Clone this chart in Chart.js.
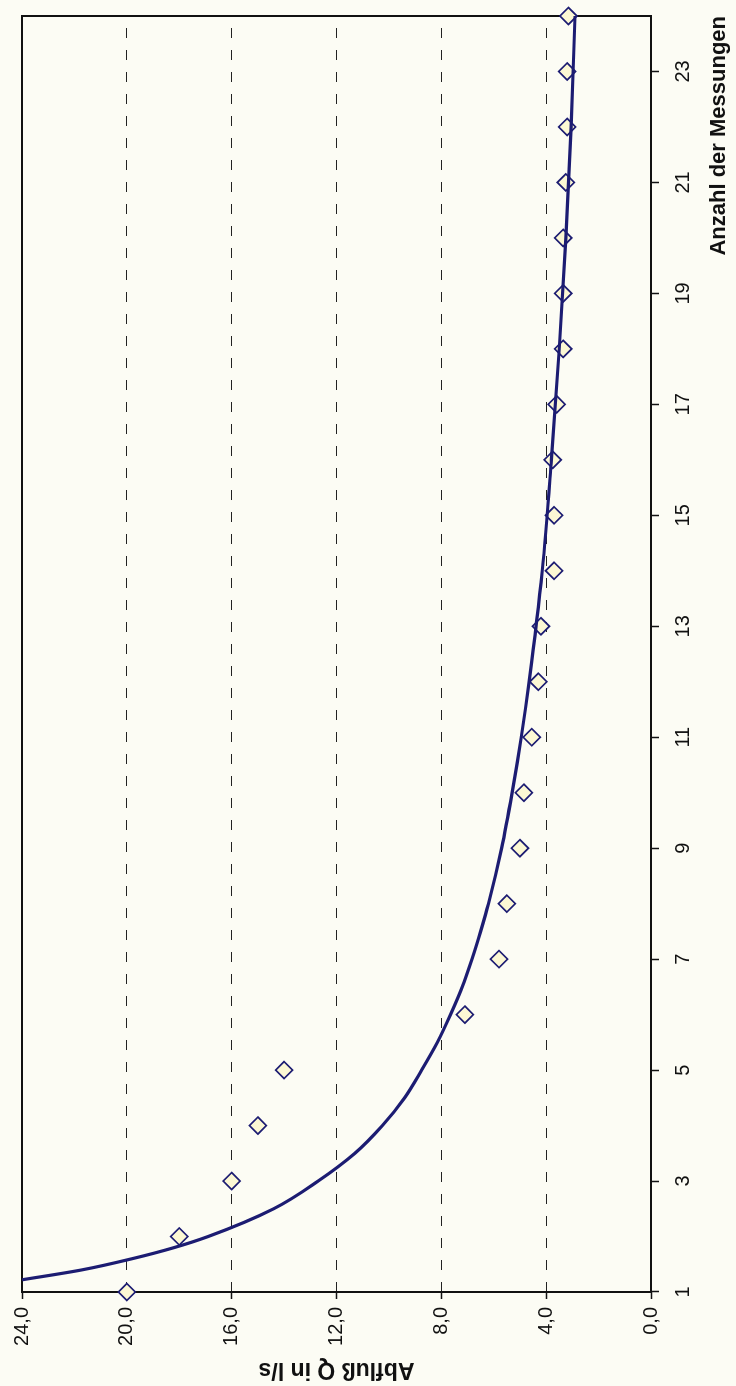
<!DOCTYPE html>
<html lang="de">
<head>
<meta charset="UTF-8" />
<title>Abfluß Q in l/s</title>
<script src="https://cdn.jsdelivr.net/npm/chart.js"></script>
<style>
  html, body {
    margin: 0;
    padding: 0;
    background: #fcfcf4;
    overflow: hidden;
  }
  body {
    width: 736px;
    height: 1386px;
    position: relative;
  }
  /* chart is laid out landscape and turned a quarter to the left */
  #wrap {
    position: absolute;
    left: 0;
    top: 0;
    width: 1386px;
    height: 736px;
    transform-origin: 0 0;
    transform: translateY(1386px) rotate(-90deg);
  }
</style>
</head>
<body>

<div id="wrap"><canvas id="abfluss" width="1386" height="736"></canvas></div>

<script>
  // Messungen und gemessener Abfluss Q in l/s
  const messung = [1, 2, 3, 4, 5, 6, 7, 8, 9, 10, 11, 12, 13, 14, 15, 16, 17, 18, 19, 20, 21, 22, 23, 24];
  const abfluss = [20.0, 18.0, 16.0, 15.0, 14.0, 7.1, 5.8, 5.5, 5.0, 4.85, 4.55, 4.3, 4.2, 3.7, 3.7, 3.75,
                   3.6, 3.35, 3.35, 3.35, 3.25, 3.2, 3.2, 3.15];

  // Trendlinie (Potenz), Stützstellen
  const trendX = [1.22, 1.4, 1.6, 1.8, 2, 2.5, 3, 3.5, 4, 4.5, 5, 5.5, 6, 6.5, 7, 7.5, 8, 9, 10, 11, 12, 14, 16,
                  18, 20, 22, 24];
  const trendY = [24.0, 21.7, 19.8, 18.2, 16.9, 14.4, 12.7, 11.3, 10.25, 9.4, 8.75, 8.15, 7.65, 7.2, 6.83, 6.5,
                  6.2, 5.7, 5.3, 4.95, 4.65, 4.15, 3.8, 3.5, 3.25, 3.05, 2.9];

  const xTicks = [1, 3, 5, 7, 9, 11, 13, 15, 17, 19, 21, 23];
  const yTicks = [0, 4, 8, 12, 16, 20, 24];

  const FONT = 'Arial, "Liberation Sans", sans-serif';
  const NAVY = '#1c1c72';

  // black frame around the plot area
  const rahmen = {
    id: 'rahmen',
    beforeDatasetsDraw(chart) {
      const { ctx, chartArea: a } = chart;
      ctx.save();
      ctx.strokeStyle = '#111';
      ctx.lineWidth = 2;
      ctx.strokeRect(a.left, a.top, a.right - a.left, a.bottom - a.top);
      ctx.restore();
    }
  };

  const ctx = document.getElementById('abfluss').getContext('2d');

  new Chart(ctx, {
    type: 'scatter',
    data: {
      datasets: [
        {
          label: 'Trend',
          data: trendX.map((x, i) => ({ x: x, y: trendY[i] })),
          showLine: true,
          borderColor: NAVY,
          borderWidth: 3.2,
          pointRadius: 0,
          cubicInterpolationMode: 'monotone',
          clip: 0
        },
        {
          label: 'Abfluß Q',
          data: messung.map((m, i) => ({ x: m, y: abfluss[i] })),
          pointStyle: 'rectRot',
          pointRadius: 8.5,
          pointBackgroundColor: '#fcf8d4',
          pointBorderColor: NAVY,
          pointBorderWidth: 1.7,
          clip: false
        }
      ]
    },
    options: {
      responsive: false,
      animation: false,
      layout: { padding: { left: 0, right: 16, top: 22, bottom: 0 } },
      plugins: {
        legend: { display: false },
        tooltip: { enabled: false }
      },
      scales: {
        x: {
          type: 'linear',
          position: 'bottom',
          min: 1,
          max: 24,
          afterBuildTicks: s => { s.ticks = xTicks.map(v => ({ value: v })); },
          afterFit: s => { s.height = 85; },
          border: { display: false },
          grid: {
            drawOnChartArea: false,
            drawTicks: true,
            tickLength: 8,
            tickColor: '#111',
            tickWidth: 1.5
          },
          ticks: {
            color: '#111',
            padding: 12,
            maxRotation: 0,
            font: { family: FONT, size: 20 }
          },
          title: {
            display: true,
            text: 'Anzahl der Messungen',
            align: 'end',
            color: '#111',
            padding: { top: 4, bottom: 4 },
            font: { family: FONT, size: 22, weight: 'bold' }
          }
        },
        y: {
          min: 0,
          max: 24,
          afterBuildTicks: s => { s.ticks = yTicks.map(v => ({ value: v })); },
          afterFit: s => { s.width = 94; },
          border: { display: false, dash: [10, 12] },
          grid: {
            color: '#222',
            lineWidth: 1,
            drawTicks: true,
            tickLength: 7,
            tickColor: '#111',
            tickWidth: 1.5,
            tickBorderDash: []
          },
          ticks: {
            color: '#111',
            padding: 8,
            font: { family: FONT, size: 20 },
            callback: v => v.toFixed(1).replace('.', ',')
          },
          title: {
            display: true,
            text: 'Abfluß Q in l/s',
            color: '#111',
            padding: { top: 3, bottom: 0 },
            font: { family: FONT, size: 23, weight: 'bold' }
          }
        }
      }
    },
    plugins: [rahmen]
  });
</script>

</body>
</html>
